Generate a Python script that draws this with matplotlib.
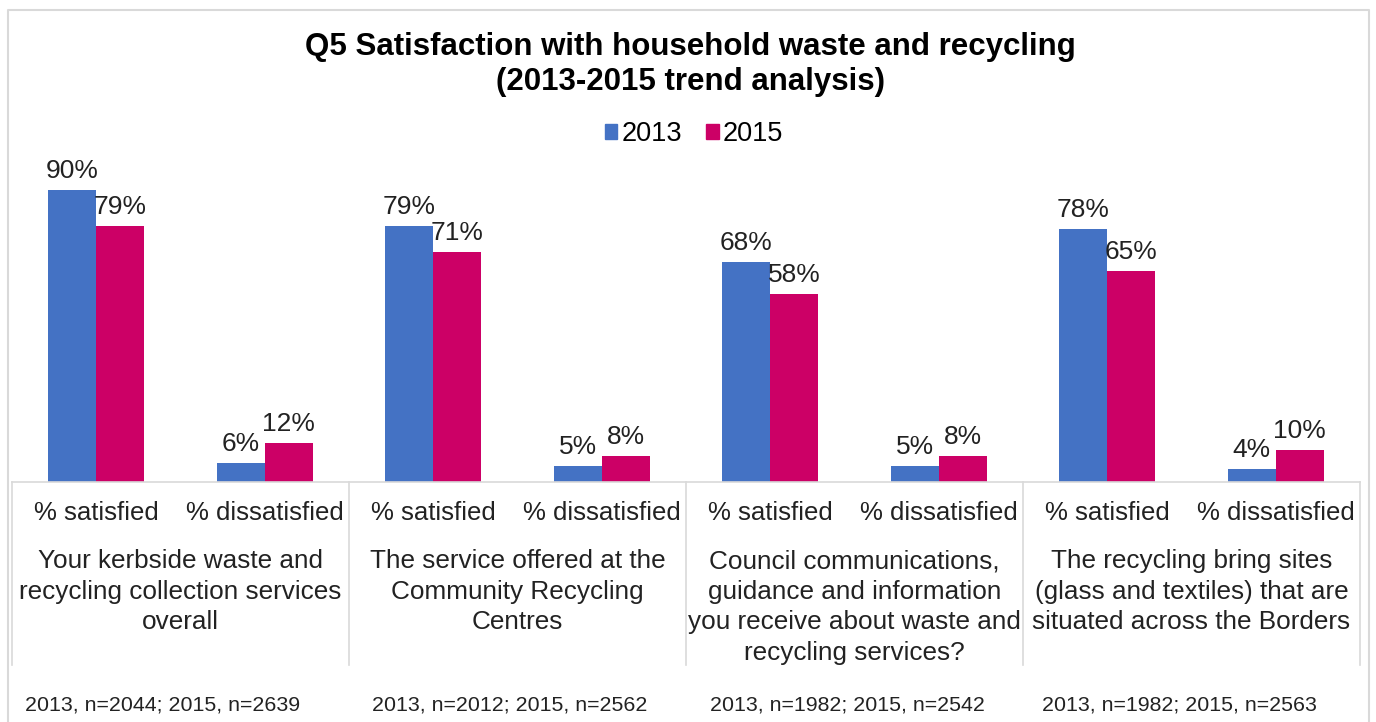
import matplotlib
matplotlib.use("Agg")
import matplotlib.pyplot as plt
import matplotlib.transforms as mtransforms
from matplotlib.patches import Patch
from matplotlib.lines import Line2D
import numpy as np

plt.rcParams["font.family"] = ["Liberation Sans", "DejaVu Sans"]

# data
years = ["2013", "2015"]
sub_labels = ["% satisfied", "% dissatisfied"] * 4
group_labels = [
    "Your kerbside waste and\nrecycling collection services\noverall",
    "The service offered at the\nCommunity Recycling\nCentres",
    "Council communications,\nguidance and information\nyou receive about waste and\nrecycling services?",
    "The recycling bring sites\n(glass and textiles) that are\nsituated across the Borders",
]
values_2013 = [90, 6, 79, 5, 68, 5, 78, 4]
values_2015 = [79, 12, 71, 8, 58, 8, 65, 10]
sample_notes = [
    "2013, n=2044; 2015, n=2639",
    "2013, n=2012; 2015, n=2562",
    "2013, n=1982; 2015, n=2542",
    "2013, n=1982; 2015, n=2563",
]
colors = ["#4472C4", "#CC0066"]

W, H = 1376, 722
fig = plt.figure(figsize=(W / 100, H / 100), dpi=100)
ax = fig.add_axes([12 / W, 1 - 482 / H, 1348 / W, 324 / H])

x = np.arange(len(sub_labels))
bw = 0.285
b1 = ax.bar(x - bw / 2, values_2013, bw, color=colors[0], label=years[0])
b2 = ax.bar(x + bw / 2, values_2015, bw, color=colors[1], label=years[1])
for bars in (b1, b2):
    ax.bar_label(bars, labels=[f"{v}%" for v in bars.datavalues],
                 padding=5, fontsize=19, color="#222222")

ax.set_xlim(-0.5, len(sub_labels) - 0.5)
ax.set_ylim(0, 100)
ax.set_yticks([])
ax.set_xticks([])
for s in ["top", "right", "left"]:
    ax.spines[s].set_visible(False)
ax.spines["bottom"].set_color("#D9D9D9")
ax.spines["bottom"].set_linewidth(1.2)

# multi-level category axis
trans = mtransforms.blended_transform_factory(ax.transData, ax.transAxes)
for i, lab in enumerate(sub_labels):
    ax.text(x[i], -0.095, lab, transform=trans, ha="center", va="center",
            fontsize=18.5, color="#222222")
for g, lab in enumerate(group_labels):
    ax.text(2 * g + 0.5, -0.208, lab, transform=trans, ha="center", va="top",
            fontsize=18.8, color="#222222", linespacing=1.34)
for b in np.arange(-0.5, len(sub_labels), 2):
    ax.add_line(Line2D([b, b], [0, -0.565], transform=trans, color="#D9D9D9",
                       lw=1.2, clip_on=False))

# sample sizes
note_x = [25, 372, 710, 1042]
for nx, note in zip(note_x, sample_notes):
    fig.text(nx / W, 1 - 705 / H, note, ha="left", va="center",
             fontsize=15.4, color="#222222")

fig.text(690 / W, 1 - 47 / H, "Q5 Satisfaction with household waste and recycling",
         ha="center", va="center", fontsize=22.5, fontweight="bold")
fig.text(690 / W, 1 - 82 / H, "(2013-2015 trend analysis)",
         ha="center", va="center", fontsize=22.5, fontweight="bold")

handles = [Patch(color=c, label=y) for c, y in zip(colors, years)]
fig.legend(handles=handles, loc="center", bbox_to_anchor=(694 / W, 1 - 134 / H),
           ncol=2, frameon=False, fontsize=19.5, handlelength=0.45, handleheight=0.45,
           handletextpad=0.15, columnspacing=0.9)

# outer chart border
fig.add_artist(Line2D([8 / W, 8 / W, 1369 / W, 1369 / W], [0, 1 - 10 / H, 1 - 10 / H, 0],
                      transform=fig.transFigure, color="#D9D9D9", lw=1.5))

fig.savefig("out.png", dpi=100)
